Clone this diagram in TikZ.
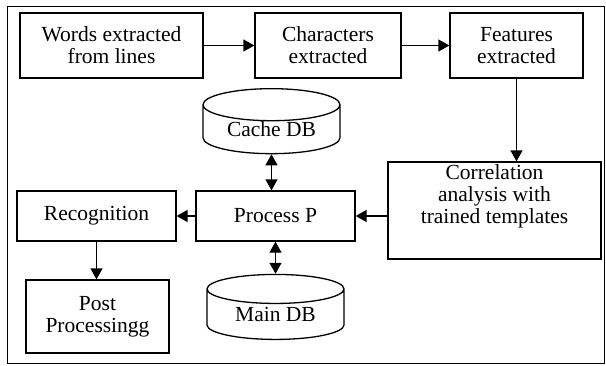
\documentclass[tikz,border=0pt]{standalone}
\usepackage{fontspec}
\setmainfont{Liberation Serif}
\usepackage{tikz}
\usetikzlibrary{arrows.meta,shapes.geometric}

\begin{document}
\begin{tikzpicture}[x=1pt, y=-1pt, line width=1.3pt,
  every node/.style={align=center, inner sep=0pt, font=\fontsize{21.5}{22}\selectfont},
  box/.style={draw, rectangle},
  db/.style={draw, cylinder, shape border rotate=90, aspect=0.36},
  link/.style={-{Triangle[length=11pt, width=12pt]}},
  dlink/.style={{Triangle[length=11pt, width=12pt]}-{Triangle[length=11pt, width=12pt]}}]
  \useasboundingbox (0,0) rectangle (606,365);
  \draw[line width=1pt] (7,6) rectangle (604,363);
  \node (words) [box, minimum width=183pt, minimum height=65pt] at (111.5, 45.5) {Words extracted\\from lines};
  \node (chars) [box, minimum width=146pt, minimum height=65pt] at (328, 45.5) {Characters\\extracted};
  \node (feats) [box, minimum width=133pt, minimum height=65pt] at (516.5, 45.5) {Features\\extracted};
  \node (corr) [box, minimum width=213pt, minimum height=97pt] at (494.5, 210.5) {Correlation\\analysis with\\trained templates\\[10pt]};
  \node (cache) [db, minimum width=137pt, minimum height=65pt] at (271.5, 129.5) {Cache DB};
  \node (proc) [box, minimum width=159pt, minimum height=50pt] at (275.5, 216) {Process P};
  \node (recog) [box, minimum width=159pt, minimum height=50pt] at (96.5, 216) {Recognition};
  \node (post) [box, minimum width=143pt, minimum height=73pt] at (97.5, 316.5) {Post\\Processingg};
  \node (main) [db, minimum width=137pt, minimum height=65pt] at (275.5, 314.5) {Main DB};
  \draw[link] (words) -- (chars);
  \draw[link] (chars) -- (feats);
  \draw[link] (feats.south) -- (feats.south |- corr.north);
  \draw[link] (corr.west |- proc) -- (proc.east);
  \draw[link] (proc) -- (recog);
  \draw[link] (recog.south) -- (recog.south |- post.north);
  \draw[dlink] (cache.south) -- (cache.south |- proc.north);
  \draw[dlink] (proc.south -| main.north) -- (main.north);
\end{tikzpicture}
\end{document}
